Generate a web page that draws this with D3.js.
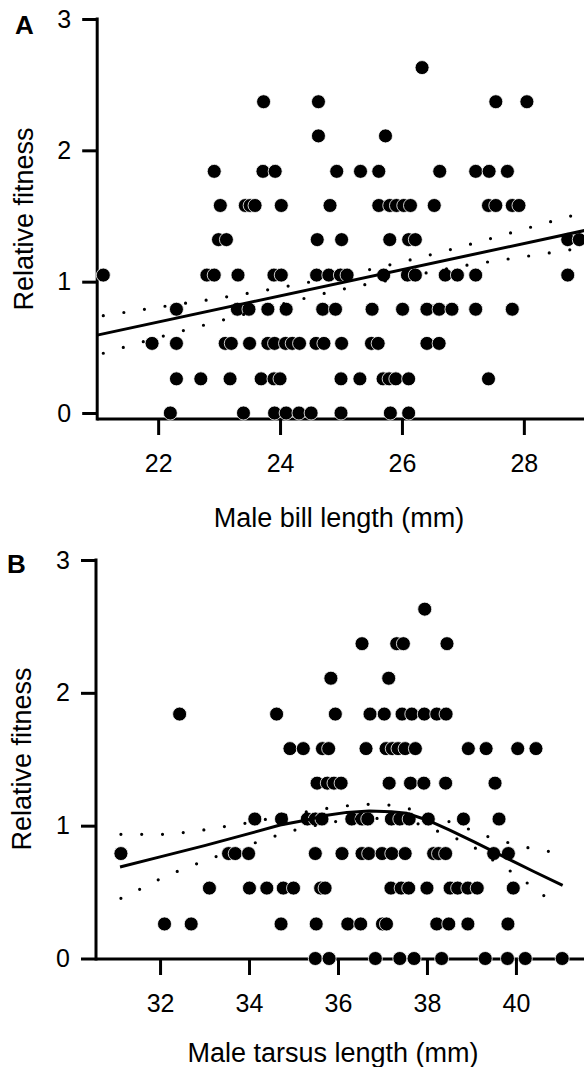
<!DOCTYPE html>
<html>
<head>
<meta charset="utf-8">
<script src="https://cdn.jsdelivr.net/npm/d3@7"></script>
<style>
    body { margin: 0; background: #fff; }
    svg text { font-family: "Liberation Sans", Arial, Helvetica, sans-serif; fill: #000; }
</style>
</head>
<body>
<div id="chart"></div>
<script>

// discrete relative-fitness levels the birds fall on
let fitLevels = [0, 0.26, 0.53, 0.79, 1.05, 1.32, 1.58, 1.84, 2.11, 2.37, 2.63];
let yTicks = [0, 1, 2, 3];

// panel A: male bill length (mm), one list per fitness level
let billByLevel = [
    [22.20, 23.40, 23.91, 24.10, 24.31, 24.51, 25.00, 25.81, 26.11],
    [22.30, 22.70, 23.18, 23.69, 23.90, 24.00, 25.00, 25.31, 25.69, 25.79, 25.90, 26.11, 27.42],
    [21.90, 22.30, 23.10, 23.20, 23.50, 23.80, 23.91, 24.09, 24.20, 24.32, 24.59, 24.72, 25.01, 25.50, 25.61, 26.41, 26.61],
    [22.30, 23.30, 23.49, 23.80, 24.10, 24.70, 24.91, 25.51, 26.01, 26.41, 26.61, 26.82, 27.21, 27.81],
    [21.10, 22.80, 22.92, 23.31, 23.90, 24.02, 24.60, 24.80, 24.99, 25.10, 25.70, 26.09, 26.22, 26.71, 26.91, 27.21, 28.72],
    [22.99, 23.12, 24.61, 25.01, 25.80, 26.11, 26.22, 28.72, 28.91],
    [23.02, 23.43, 23.51, 23.59, 24.02, 24.82, 25.62, 25.80, 25.91, 26.03, 26.14, 26.53, 27.42, 27.54, 27.81, 27.92],
    [22.92, 23.72, 23.92, 24.93, 25.32, 25.62, 26.62, 27.21, 27.43, 27.73],
    [24.63, 25.73],
    [23.73, 24.63, 27.54, 28.05],
    [26.33]
];
let billTicks = [22, 24, 26, 28];
let billFitX = [21, 29];
let billFitY = [0.593, 1.390];
let billBandX = [21.1, 22, 23, 24, 25, 26, 27, 28, 29];
let billBandHi = [0.741, 0.805, 0.875, 0.955, 1.045, 1.15, 1.27, 1.40, 1.53];
let billBandLo = [0.455, 0.575, 0.70, 0.825, 0.94, 1.03, 1.12, 1.19, 1.26];

// panel B: male tarsus length (mm)
let tarsusByLevel = [
    [35.49, 35.80, 36.84, 37.39, 37.71, 38.33, 39.31, 39.81, 40.21, 41.04],
    [32.10, 32.70, 34.72, 35.51, 36.22, 36.51, 37.00, 37.09, 38.22, 38.49, 38.92, 39.82],
    [33.11, 34.01, 34.40, 34.77, 35.00, 35.61, 35.71, 37.19, 37.42, 37.59, 38.00, 38.52, 38.69, 38.92, 39.13, 39.94],
    [31.12, 33.54, 33.69, 33.99, 35.49, 36.09, 36.54, 36.69, 36.99, 37.21, 37.51, 38.15, 38.26, 38.42, 39.50, 39.83],
    [34.13, 34.73, 35.31, 35.49, 35.64, 36.31, 36.54, 36.67, 37.20, 37.39, 37.60, 38.03, 38.82, 39.62],
    [35.53, 35.76, 35.91, 36.07, 37.15, 37.63, 37.93, 38.42, 39.53],
    [34.92, 35.22, 35.65, 35.79, 36.63, 37.08, 37.22, 37.35, 37.51, 37.74, 38.93, 39.33, 40.04, 40.45],
    [32.44, 34.62, 35.94, 36.72, 37.04, 37.44, 37.66, 37.94, 38.22, 38.43],
    [35.84, 37.14],
    [36.54, 37.32, 37.47, 38.45],
    [37.95]
];
let tarsusTicks = [32, 34, 36, 38, 40];
let tarsusFitX = [31.1, 32.0, 33.0, 34.0, 34.7, 35.3, 35.75, 36.2, 36.7, 37.2, 37.55, 38.0, 38.5, 39.05, 39.5, 39.95, 40.4, 41.05];
let tarsusFitY = [0.689, 0.765, 0.85, 0.94, 1.005, 1.043, 1.078, 1.10, 1.11, 1.105, 1.093, 1.043, 0.968, 0.880, 0.804, 0.729, 0.655, 0.55];
let tarsusBandX = [31.12, 31.59, 32.06, 32.52, 32.99, 33.45, 33.91, 34.38, 34.84, 35.31, 35.77, 36.24, 36.70, 37.17, 37.64, 38.10, 38.56, 39.03, 39.48, 39.95, 40.41, 40.88];
let tarsusBandHi = [0.935, 0.935, 0.935, 0.948, 0.968, 0.993, 1.018, 1.048, 1.080, 1.105, 1.131, 1.151, 1.161, 1.154, 1.123, 1.075, 1.023, 0.962, 0.905, 0.862, 0.824, 0.800];
let tarsusBandLo = [0.453, 0.529, 0.609, 0.674, 0.734, 0.790, 0.845, 0.898, 0.950, 0.988, 1.020, 1.045, 1.055, 1.050, 1.030, 0.975, 0.917, 0.842, 0.742, 0.641, 0.529, 0.408];


class FitnessVis {

    constructor(_svg, _cfg) {
        this.svg = _svg;
        this.cfg = _cfg;
        this.initVis();
    }

    initVis() {
        let vis = this;
        let cfg = vis.cfg;

        vis.g = vis.svg.append("g");

        vis.x = d3.scaleLinear().domain(cfg.xDomain).range(cfg.xRange);
        vis.y = d3.scaleLinear().domain([0, 3]).range(cfg.yRange);

        // y axis
        let yAxis = d3.axisLeft(vis.y)
            .tickValues(yTicks)
            .tickFormat(d3.format("d"))
            .tickSize(15)
            .tickSizeOuter(0)
            .tickPadding(11);

        let gy = vis.g.append("g")
            .attr("transform", "translate(" + cfg.xRange[0] + ",0)")
            .call(yAxis);
        gy.select(".domain").remove();
        gy.selectAll("line").attr("stroke", "#000").attr("stroke-width", 3);
        gy.selectAll("text").style("font-size", "25px");

        // x axis
        let xAxis = d3.axisBottom(vis.x)
            .tickValues(cfg.xTicks)
            .tickSize(16)
            .tickSizeOuter(0)
            .tickPadding(19);

        let gx = vis.g.append("g")
            .attr("transform", "translate(0," + cfg.xAxisY + ")")
            .call(xAxis);
        gx.select(".domain").remove();
        gx.selectAll("line").attr("stroke", "#000").attr("stroke-width", 3);
        gx.selectAll("text").style("font-size", "25px");

        // axis lines
        vis.g.append("line")
            .attr("x1", cfg.xRange[0]).attr("x2", cfg.xRange[0])
            .attr("y1", vis.y(3) - 1.5).attr("y2", cfg.xAxisY + 1.5)
            .attr("stroke", "#000").attr("stroke-width", 3);
        vis.g.append("line")
            .attr("x1", cfg.xRange[0]).attr("x2", 584)
            .attr("y1", cfg.xAxisY).attr("y2", cfg.xAxisY)
            .attr("stroke", "#000").attr("stroke-width", 3);

        // titles
        vis.g.append("text")
            .attr("x", cfg.letterX).attr("y", cfg.letterY)
            .style("font-size", "26px").style("font-weight", "bold")
            .text(cfg.letter);

        vis.g.append("text")
            .attr("transform", "translate(" + cfg.yTitle[0] + "," + cfg.yTitle[1] + ") rotate(-90)")
            .attr("text-anchor", "middle")
            .style("font-size", "27px")
            .text("Relative fitness");

        vis.g.append("text")
            .attr("x", cfg.xTitle[0]).attr("y", cfg.xTitle[1])
            .attr("text-anchor", "middle")
            .style("font-size", "27px")
            .text(cfg.xLabel);

        vis.wrangleData();
    }

    wrangleData() {
        let vis = this;

        vis.points = [];
        vis.cfg.byLevel.forEach(function(row, k) {
            row.forEach(function(v) {
                vis.points.push({ x: v, y: fitLevels[k] });
            });
        });

        vis.fit = vis.cfg.fitX.map(function(v, i) {
            return { x: v, y: vis.cfg.fitY[i] };
        });
        vis.hi = vis.cfg.bandX.map(function(v, i) {
            return { x: v, y: vis.cfg.bandHi[i] };
        });
        vis.lo = vis.cfg.bandX.map(function(v, i) {
            return { x: v, y: vis.cfg.bandLo[i] };
        });

        vis.updateVis();
    }

    updateVis() {
        let vis = this;

        vis.g.selectAll(".dot")
            .data(vis.points)
            .enter().append("circle")
            .attr("class", "dot")
            .attr("cx", function(d) { return vis.x(d.x); })
            .attr("cy", function(d) { return vis.y(d.y); })
            .attr("r", 7)
            .attr("fill", "#000")
            .attr("stroke", "#fff")
            .attr("stroke-width", 0.8);

        let smooth = d3.line()
            .x(function(d) { return vis.x(d.x); })
            .y(function(d) { return vis.y(d.y); })
            .curve(d3.curveMonotoneX);

        let straight = d3.line()
            .x(function(d) { return vis.x(d.x); })
            .y(function(d) { return vis.y(d.y); });

        [vis.hi, vis.lo].forEach(function(band) {
            vis.g.append("path")
                .attr("d", smooth(band))
                .attr("fill", "none")
                .attr("stroke", "#000")
                .attr("stroke-width", 3.2)
                .attr("stroke-linecap", "round")
                .attr("stroke-dasharray", "0 20.8");
        });

        vis.g.append("path")
            .attr("d", straight(vis.fit))
            .attr("fill", "none")
            .attr("stroke", "#000")
            .attr("stroke-width", 3)
            .attr("stroke-linejoin", "round");
    }
}

let svg = d3.select("#chart").append("svg")
    .attr("width", 584)
    .attr("height", 1067);

new FitnessVis(svg, {
    letter: "A", letterX: 15, letterY: 34,
    xDomain: [21, 29], xRange: [97.2, 584.8], yRange: [413, 19], xAxisY: 419,
    xTicks: billTicks, xLabel: "Male bill length (mm)",
    xTitle: [339, 527], yTitle: [33, 219],
    byLevel: billByLevel,
    fitX: billFitX, fitY: billFitY,
    bandX: billBandX, bandHi: billBandHi, bandLo: billBandLo
});

new FitnessVis(svg, {
    letter: "B", letterX: 7, letterY: 573,
    xDomain: [30.56, 41.53], xRange: [96, 584], yRange: [958.5, 560], xAxisY: 959,
    xTicks: tarsusTicks, xLabel: "Male tarsus length (mm)",
    xTitle: [333, 1062], yTitle: [31, 759],
    byLevel: tarsusByLevel,
    fitX: tarsusFitX, fitY: tarsusFitY,
    bandX: tarsusBandX, bandHi: tarsusBandHi, bandLo: tarsusBandLo
});

</script>
</body>
</html>
